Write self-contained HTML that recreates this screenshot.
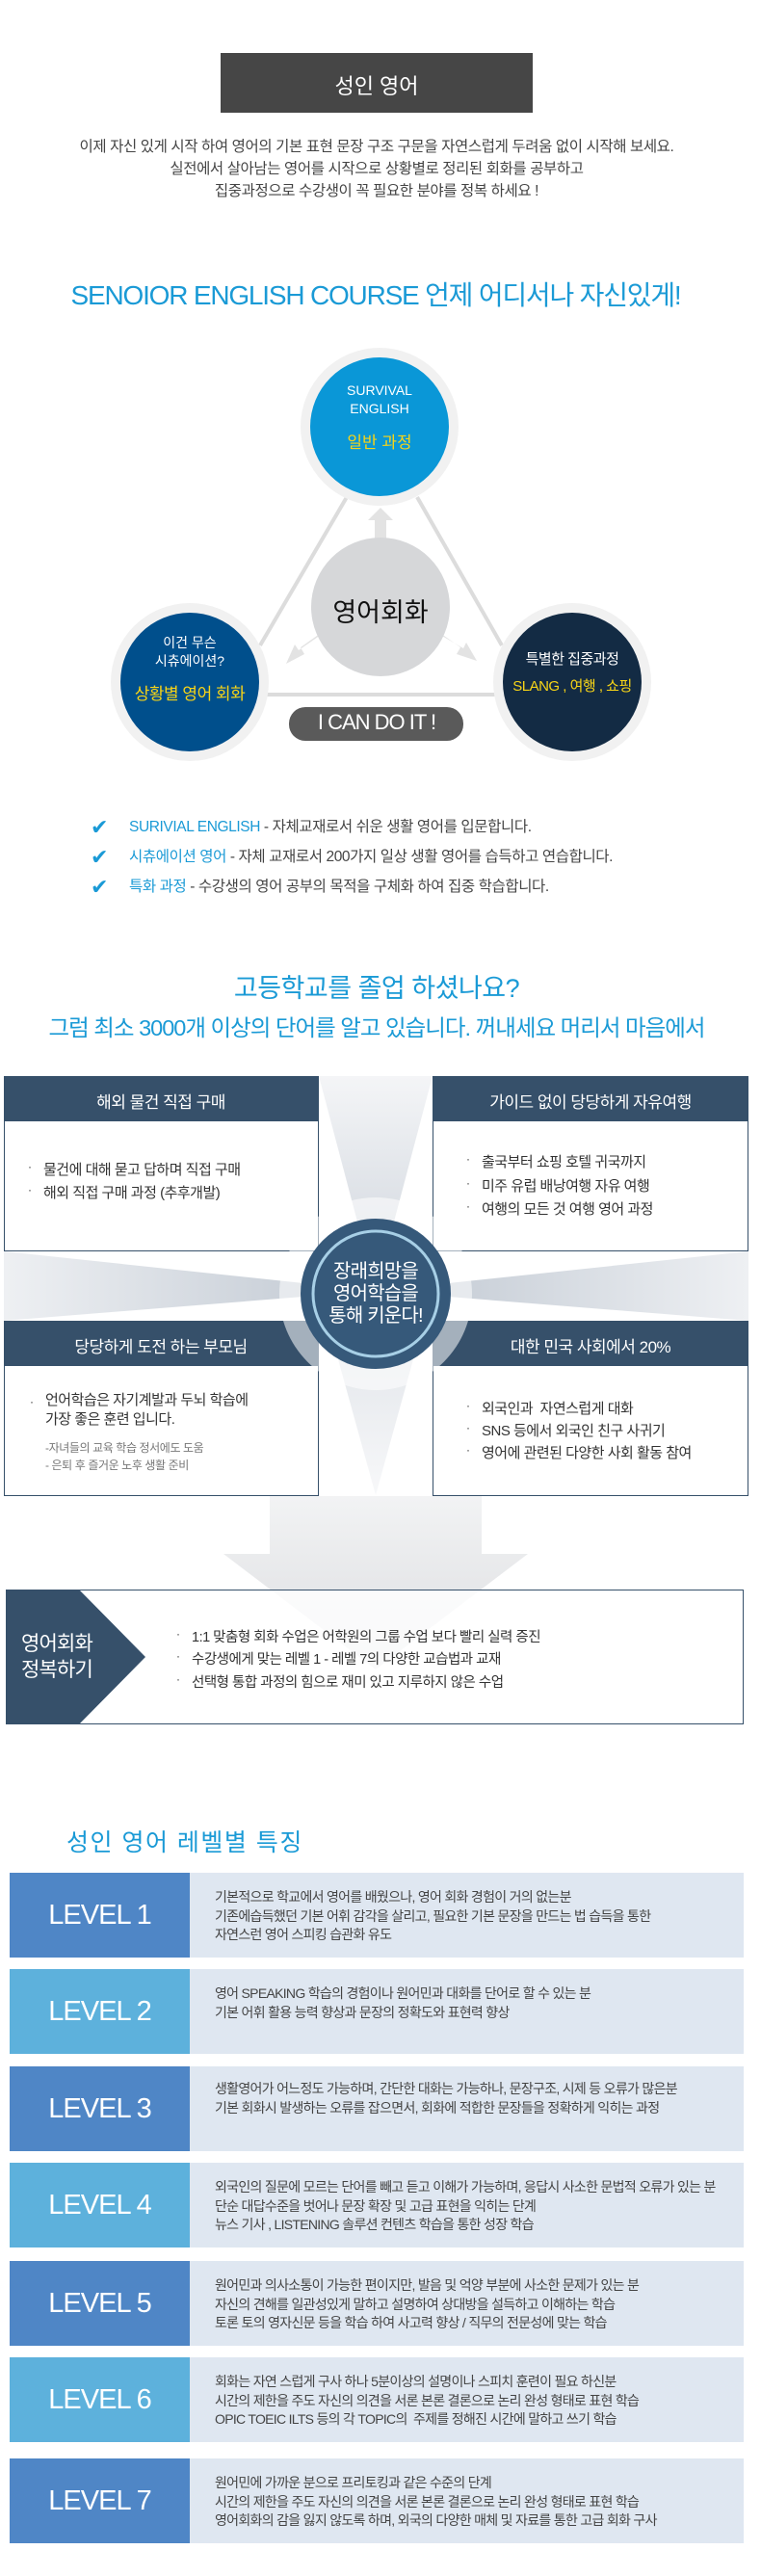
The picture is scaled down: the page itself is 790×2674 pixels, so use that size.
<!DOCTYPE html>
<html><head><meta charset="utf-8"><style>
*{margin:0;padding:0;box-sizing:border-box}
body{width:790px;height:2674px;position:relative;background:#fff;font-family:"Liberation Sans","Noto Sans CJK KR",sans-serif;color:#333;overflow:hidden}
.a{position:absolute;white-space:nowrap}
.c{text-align:center;transform:translateX(-50%)}
.blue{color:#1a9ad6}
.yel{color:#f7d417}
.bul{position:absolute;font-size:15px;color:#333;letter-spacing:-0.5px}
.bul b{font-weight:normal;position:absolute;left:-16px;font-size:12px;top:1px}
.lvl{position:absolute;left:10px;width:762px;height:88px;background:#dfe7f1}
.lvl .l{position:absolute;left:0;top:0;width:187px;height:88px;color:#fff;font-size:29px;text-align:center;line-height:88px;letter-spacing:-1px}
.lvl .t{position:absolute;left:213px;top:16px;font-size:14px;line-height:19.5px;letter-spacing:-0.7px;color:#444;white-space:nowrap}
.d{background:#4f86c6}.e{background:#5db1dc}
</style></head><body>
<svg class="a" style="left:0;top:0" width="790" height="2674">
<defs>
<linearGradient id="gl" x1="0" x2="1" y1="0" y2="0"><stop offset="0" stop-color="#eef0f3"/><stop offset="1" stop-color="#bfc7d1"/></linearGradient>
<linearGradient id="gr" x1="1" x2="0" y1="0" y2="0"><stop offset="0" stop-color="#eef0f3"/><stop offset="1" stop-color="#bfc7d1"/></linearGradient>
<linearGradient id="gt" x1="0" x2="0" y1="0" y2="1"><stop offset="0" stop-color="#f4f5f7"/><stop offset="1" stop-color="#cdd3db"/></linearGradient>
<linearGradient id="ga" x1="0" x2="0" y1="0" y2="1"><stop offset="0" stop-color="#f2f3f4"/><stop offset="1" stop-color="#dcdde0"/></linearGradient>
</defs>
<rect x="229" y="55" width="324" height="62" fill="#464646"/>
<line x1="360" y1="516" x2="270" y2="670" stroke="#dcdcdc" stroke-width="4"/>
<line x1="433" y1="516" x2="521" y2="670" stroke="#dcdcdc" stroke-width="4"/>
<line x1="270" y1="721" x2="520" y2="721" stroke="#dcdcdc" stroke-width="4"/>
<polygon points="389,565 389,540 382,540 395,527 408,540 401,540 401,565" fill="#e3e3e3"/>
<polygon points="336,655 312,672 316,679 297,689 306,669 310,675 333,659" fill="#e3e3e3"/>
<polygon points="454,655 478,672 474,679 495,686 484,667 481,673 457,659" fill="#e3e3e3"/>
<circle cx="395" cy="630" r="72" fill="#d6d7d9"/>
<circle cx="394" cy="443" r="82" fill="#f1f1f1"/><circle cx="394" cy="443" r="72" fill="#0a97d7"/>
<circle cx="197" cy="708" r="82" fill="#f1f1f1"/><circle cx="197" cy="708" r="72" fill="#004f8c"/>
<circle cx="594" cy="708" r="82" fill="#f1f1f1"/><circle cx="594" cy="708" r="72" fill="#132b44"/>
<rect x="300" y="734" width="181" height="35" rx="17" fill="#5a5a5a"/>
<polygon points="4,1299 4,1371 390,1340" fill="url(#gl)"/>
<polygon points="777,1299 777,1371 390,1340" fill="url(#gr)"/>
<polygon points="331,1117 449,1117 390,1340" fill="url(#gt)"/>
<polygon points="331,1553 449,1553 390,1340" fill="url(#gt)" transform="rotate(180 390 1446)" opacity="0.7"/>
<rect x="4.5" y="1117.5" width="326" height="181" fill="#fff" stroke="#36506a"/>
<rect x="4" y="1117" width="327" height="47" fill="#36506a"/>
<rect x="449.5" y="1117.5" width="327" height="181" fill="#fff" stroke="#36506a"/>
<rect x="449" y="1117" width="328" height="47" fill="#36506a"/>
<rect x="4.5" y="1371.5" width="326" height="181" fill="#fff" stroke="#36506a"/>
<rect x="4" y="1371" width="327" height="47" fill="#36506a"/>
<rect x="449.5" y="1371.5" width="327" height="181" fill="#fff" stroke="#36506a"/>
<rect x="449" y="1371" width="328" height="47" fill="#36506a"/>
<circle cx="390" cy="1343" r="100" fill="#fff" opacity="0.55"/>
<circle cx="390" cy="1343" r="78" fill="#36597a"/>
<circle cx="390" cy="1343" r="65" fill="none" stroke="#a7cfe6" stroke-width="3"/>
<polygon points="280,1553 500,1553 500,1613 548,1613 390,1733 232,1613 280,1613" fill="url(#ga)"/>
<rect x="6.5" y="1650.5" width="765" height="139" fill="#fff" fill-opacity="0.82" stroke="#36506a"/>
<polygon points="6,1650 82,1650 151,1720 82,1790 6,1790" fill="#36506a"/>
</svg>

<div class="a c" style="left:391px;top:72px;font-size:22px;color:#fff">성인 영어</div>
<div class="a c" style="left:391px;top:141px;font-size:15.5px;line-height:23px;letter-spacing:-0.4px;color:#444">이제 자신 있게 시작 하여 영어의 기본 표현 문장 구조 구문을 자연스럽게 두려움 없이 시작해 보세요.<br>실전에서 살아남는 영어를 시작으로 상황별로 정리된 회화를 공부하고<br>집중과정으로 수강생이 꼭 필요한 분야를 정복 하세요 !</div>
<div class="a c blue" style="left:390px;top:285px;font-size:28px;letter-spacing:-1.2px">SENOIOR ENGLISH COURSE 언제 어디서나 자신있게!</div>

<div class="a c" style="left:394px;top:396px;font-size:14px;line-height:19px;color:#fff">SURVIVAL<br>ENGLISH</div>
<div class="a c yel" style="left:394px;top:445px;font-size:17px">일반 과정</div>
<div class="a c" style="left:197px;top:658px;font-size:14px;line-height:19px;color:#fff">이건 무슨<br>시츄에이션?</div>
<div class="a c yel" style="left:197px;top:706px;font-size:17px;letter-spacing:-0.5px">상황별 영어 회화</div>
<div class="a c" style="left:594px;top:673px;font-size:15px;color:#fff;letter-spacing:-0.5px">특별한 집중과정</div>
<div class="a c yel" style="left:594px;top:701px;font-size:15px;letter-spacing:-0.5px">SLANG , 여행 , 쇼핑</div>
<div class="a c" style="left:395px;top:614px;font-size:27px;color:#111">영어회화</div>
<div class="a c" style="left:391px;top:737px;font-size:22px;color:#fff;letter-spacing:-1px">I CAN DO IT !</div>

<div class="a" style="left:94px;top:843px;font-size:22px;line-height:31px;color:#1a9ad6">✔<br>✔<br>✔</div>
<div class="a" style="left:134px;top:843px;font-size:15.5px;line-height:31px;letter-spacing:-0.4px;color:#444"><span class="blue">SURIVIAL ENGLISH</span> - 자체교재로서 쉬운 생활 영어를 입문합니다.<br><span class="blue">시츄에이션 영어</span> - 자체 교재로서 200가지 일상 생활 영어를 습득하고 연습합니다.<br><span class="blue">특화 과정</span> - 수강생의 영어 공부의 목적을 구체화 하여 집중 학습합니다.</div>

<div class="a c blue" style="left:391px;top:1004px;font-size:27px;letter-spacing:-0.5px">고등학교를 졸업 하셨나요?</div>
<div class="a c blue" style="left:391px;top:1048px;font-size:23.5px;letter-spacing:-1px">그럼 최소 3000개 이상의 단어를 알고 있습니다. 꺼내세요 머리서 마음에서</div>

<div class="a c" style="left:167px;top:1130px;font-size:17px;color:#fff;letter-spacing:-0.5px">해외 물건 직접 구매</div>
<div class="a c" style="left:613px;top:1130px;font-size:17px;color:#fff;letter-spacing:-0.5px">가이드 없이 당당하게 자유여행</div>
<div class="a c" style="left:167px;top:1384px;font-size:17px;color:#fff;letter-spacing:-0.5px">당당하게 도전 하는 부모님</div>
<div class="a c" style="left:613px;top:1384px;font-size:17px;color:#fff;letter-spacing:-0.5px">대한 민국 사회에서 20%</div>

<div class="bul" style="left:45px;top:1203px"><b>·</b>물건에 대해 묻고 답하며 직접 구매</div>
<div class="bul" style="left:45px;top:1227px"><b>·</b>해외 직접 구매 과정 (추후개발)</div>
<div class="bul" style="left:500px;top:1195px"><b>·</b>출국부터 쇼핑 호텔 귀국까지</div>
<div class="bul" style="left:500px;top:1220px"><b>·</b>미주 유럽 배낭여행 자유 여행</div>
<div class="bul" style="left:500px;top:1244px"><b>·</b>여행의 모든 것 여행 영어 과정</div>
<div class="bul" style="left:47px;top:1444px;line-height:20px"><b>·</b>언어학습은 자기계발과 두뇌 학습에<br>가장 좋은 훈련 입니다.</div>
<div class="a" style="left:47px;top:1494px;font-size:12px;line-height:18px;color:#777;letter-spacing:-0.4px">-자녀들의 교육 학습 정서에도 도움<br>- 은퇴 후 즐거운 노후 생활 준비</div>
<div class="bul" style="left:500px;top:1451px"><b>·</b>외국인과&nbsp; 자연스럽게 대화</div>
<div class="bul" style="left:500px;top:1474px"><b>·</b>SNS 등에서 외국인 친구 사귀기</div>
<div class="bul" style="left:500px;top:1497px"><b>·</b>영어에 관련된 다양한 사회 활동 참여</div>
<div class="a c" style="left:390px;top:1309px;font-size:20px;line-height:23px;color:#fff;letter-spacing:-0.8px">장래희망을<br>영어학습을<br>통해 키운다!</div>

<div class="a" style="left:22px;top:1693px;font-size:21px;line-height:27px;color:#fff;letter-spacing:-0.8px">영어회화<br>정복하기</div>
<div class="bul" style="left:199px;top:1688px;font-size:14.5px"><b>·</b>1:1 맞춤형 회화 수업은 어학원의 그룹 수업 보다 빨리 실력 증진</div>
<div class="bul" style="left:199px;top:1711px;font-size:14.5px"><b>·</b>수강생에게 맞는 레벨 1 - 레벨 7의 다양한 교습법과 교재</div>
<div class="bul" style="left:199px;top:1735px;font-size:14.5px"><b>·</b>선택형 통합 과정의 힘으로 재미 있고 지루하지 않은 수업</div>

<div class="a blue" style="left:69px;top:1893px;font-size:25px;letter-spacing:1.5px">성인 영어 레벨별 특징</div>

<div class="lvl" style="top:1944px"><div class="l d">LEVEL 1</div><div class="t">기본적으로 학교에서 영어를 배웠으나, 영어 회화 경험이 거의 없는분<br>기존에습득했던 기본 어휘 감각을 살리고, 필요한 기본 문장을 만드는 법 습득을 통한<br>자연스런 영어 스피킹 습관화 유도</div></div>
<div class="lvl" style="top:2044px"><div class="l e">LEVEL 2</div><div class="t">영어 SPEAKING 학습의 경험이나 원어민과 대화를 단어로 할 수 있는 분<br>기본 어휘 활용 능력 향상과 문장의 정확도와 표현력 향상</div></div>
<div class="lvl" style="top:2145px"><div class="l d">LEVEL 3</div><div class="t" style="top:14px">생활영어가 어느정도 가능하며, 간단한 대화는 가능하나, 문장구조, 시제 등 오류가 많은분<br>기본 회화시 발생하는 오류를 잡으면서, 회화에 적합한 문장들을 정확하게 익히는 과정</div></div>
<div class="lvl" style="top:2245px"><div class="l e">LEVEL 4</div><div class="t">외국인의 질문에 모르는 단어를 빼고 듣고 이해가 가능하며, 응답시 사소한 문법적 오류가 있는 분<br>단순 대답수준을 벗어나 문장 확장 및 고급 표현을 익히는 단계<br>뉴스 기사 , LISTENING 솔루션 컨텐츠 학습을 통한 성장 학습</div></div>
<div class="lvl" style="top:2347px"><div class="l d">LEVEL 5</div><div class="t">원어민과 의사소통이 가능한 편이지만, 발음 및 억양 부분에 사소한 문제가 있는 분<br>자신의 견해를 일관성있게 말하고 설명하여 상대방을 설득하고 이해하는 학습<br>토론 토의 영자신문 등을 학습 하여 사고력 향상 / 직무의 전문성에 맞는 학습</div></div>
<div class="lvl" style="top:2447px"><div class="l e">LEVEL 6</div><div class="t">회화는 자연 스럽게 구사 하나 5분이상의 설명이나 스피치 훈련이 필요 하신분<br>시간의 제한을 주도 자신의 의견을 서론 본론 결론으로 논리 완성 형태로 표현 학습<br>OPIC TOEIC ILTS 등의 각 TOPIC의&nbsp; 주제를 정해진 시간에 말하고 쓰기 학습</div></div>
<div class="lvl" style="top:2552px"><div class="l d">LEVEL 7</div><div class="t">원어민에 가까운 분으로 프리토킹과 같은 수준의 단계<br>시간의 제한을 주도 자신의 의견을 서론 본론 결론으로 논리 완성 형태로 표현 학습<br>영어회화의 감을 잃지 않도록 하며, 외국의 다양한 매체 및 자료를 통한 고급 회화 구사</div></div>
</body></html>
